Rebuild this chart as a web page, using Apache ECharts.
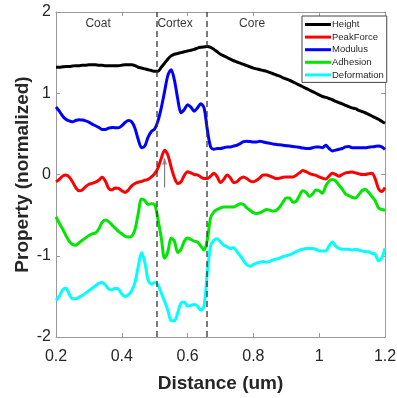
<!DOCTYPE html>
<html><head><meta charset="utf-8">
<script src="https://cdn.jsdelivr.net/npm/echarts@6/dist/echarts.min.js"></script>
<style>html,body{margin:0;padding:0;background:#fff}#c{width:397px;height:398px}</style>
</head><body><div id="c"></div>
<script>
const distance = [0.20,0.21,0.22,0.23,0.24,0.25,0.26,0.27,0.28,0.29,0.30,0.31,0.32,0.33,0.34,0.35,0.36,0.37,0.38,0.39,0.40,0.41,0.42,0.43,0.44,0.45,0.46,0.47,0.48,0.49,0.50,0.51,0.52,0.53,0.54,0.55,0.56,0.57,0.58,0.59,0.60,0.61,0.62,0.63,0.64,0.65,0.66,0.67,0.68,0.69,0.70,0.71,0.72,0.73,0.74,0.75,0.76,0.77,0.78,0.79,0.80,0.81,0.82,0.83,0.84,0.85,0.86,0.87,0.88,0.89,0.90,0.91,0.92,0.93,0.94,0.95,0.96,0.97,0.98,0.99,1.00,1.01,1.02,1.03,1.04,1.05,1.06,1.07,1.08,1.09,1.10,1.11,1.12,1.13,1.14,1.15,1.16,1.17,1.18,1.19,1.20];
const height = [1.32,1.32,1.325,1.33,1.33,1.335,1.34,1.34,1.345,1.345,1.35,1.35,1.35,1.345,1.345,1.34,1.34,1.34,1.34,1.34,1.345,1.35,1.35,1.35,1.34,1.32,1.31,1.30,1.29,1.28,1.27,1.27,1.32,1.37,1.42,1.46,1.48,1.49,1.50,1.51,1.52,1.53,1.54,1.555,1.565,1.57,1.575,1.565,1.54,1.51,1.48,1.46,1.44,1.42,1.40,1.385,1.37,1.355,1.34,1.325,1.31,1.30,1.29,1.28,1.27,1.255,1.24,1.225,1.21,1.19,1.175,1.16,1.14,1.12,1.10,1.08,1.06,1.04,1.02,1.00,0.98,0.96,0.95,0.935,0.92,0.90,0.885,0.87,0.85,0.835,0.82,0.81,0.79,0.775,0.76,0.74,0.72,0.70,0.68,0.655,0.63];
const peakForce = [-0.09,-0.06,-0.02,-0.005,-0.03,-0.09,-0.16,-0.20,-0.19,-0.15,-0.12,-0.11,-0.095,-0.07,-0.035,-0.08,-0.17,-0.19,-0.165,-0.17,-0.20,-0.22,-0.19,-0.14,-0.11,-0.095,-0.085,-0.07,-0.06,-0.03,0.01,0.08,0.20,0.30,0.24,0.09,-0.04,-0.11,-0.09,-0.01,0.035,0.02,0.0,-0.005,-0.03,-0.05,-0.05,-0.02,0.015,-0.03,-0.10,-0.06,-0.005,-0.04,-0.10,-0.09,-0.05,-0.03,-0.05,-0.08,-0.09,-0.07,-0.04,-0.005,-0.005,-0.02,-0.035,-0.05,-0.045,-0.035,-0.03,-0.03,-0.03,-0.01,0.02,0.05,0.035,0.015,0.0,-0.01,-0.03,-0.045,-0.055,-0.02,0.015,0.0,-0.02,0.0,0.02,0.025,0.03,0.02,0.01,0.0,0.0,0.01,0.015,-0.05,-0.17,-0.21,-0.16];
const modulus = [0.83,0.78,0.72,0.68,0.66,0.65,0.665,0.675,0.67,0.66,0.645,0.62,0.60,0.58,0.555,0.555,0.57,0.58,0.575,0.575,0.60,0.64,0.665,0.65,0.57,0.43,0.33,0.35,0.46,0.53,0.56,0.66,0.82,1.02,1.22,1.29,1.16,0.93,0.76,0.80,0.86,0.83,0.78,0.82,0.87,0.82,0.55,0.34,0.31,0.32,0.32,0.33,0.34,0.34,0.35,0.36,0.38,0.405,0.41,0.405,0.40,0.40,0.41,0.40,0.39,0.385,0.375,0.37,0.365,0.36,0.355,0.35,0.345,0.34,0.335,0.325,0.32,0.32,0.33,0.34,0.34,0.33,0.36,0.32,0.29,0.30,0.31,0.32,0.34,0.345,0.33,0.33,0.33,0.33,0.33,0.335,0.34,0.345,0.35,0.34,0.31];
const adhesion = [-0.52,-0.60,-0.67,-0.75,-0.82,-0.86,-0.87,-0.84,-0.81,-0.78,-0.75,-0.73,-0.72,-0.67,-0.59,-0.56,-0.58,-0.62,-0.66,-0.70,-0.73,-0.76,-0.77,-0.76,-0.68,-0.48,-0.30,-0.32,-0.37,-0.36,-0.37,-0.55,-0.78,-1.03,-0.95,-0.78,-0.82,-0.96,-0.92,-0.82,-0.78,-0.80,-0.82,-0.83,-0.88,-0.93,-0.80,-0.53,-0.46,-0.43,-0.41,-0.40,-0.40,-0.40,-0.40,-0.38,-0.36,-0.37,-0.41,-0.44,-0.47,-0.48,-0.47,-0.45,-0.43,-0.44,-0.45,-0.44,-0.40,-0.34,-0.29,-0.29,-0.34,-0.33,-0.26,-0.20,-0.22,-0.27,-0.24,-0.19,-0.20,-0.23,-0.14,-0.08,-0.06,-0.08,-0.13,-0.18,-0.24,-0.26,-0.28,-0.29,-0.25,-0.20,-0.18,-0.22,-0.27,-0.32,-0.41,-0.43,-0.44];
const deformation = [-1.55,-1.50,-1.42,-1.40,-1.47,-1.53,-1.53,-1.51,-1.49,-1.46,-1.43,-1.40,-1.37,-1.34,-1.33,-1.36,-1.41,-1.42,-1.40,-1.41,-1.47,-1.50,-1.48,-1.43,-1.33,-1.13,-0.96,-1.08,-1.30,-1.35,-1.33,-1.36,-1.46,-1.56,-1.67,-1.80,-1.80,-1.70,-1.58,-1.57,-1.62,-1.61,-1.60,-1.62,-1.67,-1.62,-1.20,-0.88,-0.81,-0.79,-0.83,-0.87,-0.89,-0.91,-0.90,-0.95,-1.00,-1.06,-1.11,-1.13,-1.11,-1.09,-1.08,-1.07,-1.08,-1.07,-1.05,-1.04,-1.03,-1.01,-1.00,-0.99,-0.97,-0.95,-0.93,-0.92,-0.91,-0.91,-0.91,-0.92,-0.94,-0.94,-0.94,-0.88,-0.83,-0.88,-0.91,-0.92,-0.92,-0.92,-0.93,-0.92,-0.93,-0.94,-0.95,-0.95,-0.97,-0.98,-1.06,-1.03,-0.91];
const seriesNames = ['Height','PeakForce','Modulus','Adhesion','Deformation'];
const seriesColors = ['#000000','#ff0000','#0000ff','#00e600','#00ffff'];
const boundaries = [0.507, 0.659];
const regionNames = ['Coat','Cortex','Core'];
const regionX = [0.328, 0.562, 0.796];
const regionY = 1.86;
const arrowX = 0.53, arrowFrom = -0.16, arrowTo = 0.19;
const xTicks = [0.2,0.4,0.6,0.8,1,1.2];
const yTicks = [-2,-1,0,1,2];

const values = [height, peakForce, modulus, adhesion, deformation];
const FONT = 'Liberation Sans, Arial, sans-serif';
const axisCol = '#9a9a9a';
const labelCol = '#262626';

const lineSeries = seriesNames.map((n,i)=>({
  name:n, type:'line', symbol:'none', smooth:0.3,
  data: distance.map((d,k)=>[d, values[i][k]]),
  lineStyle:{color:seriesColors[i], width:3},
  itemStyle:{color:seriesColors[i]},
  z:3, animation:false
}));

const dividerSeries = boundaries.map((b,i)=>({
  name:'div'+i, type:'line', symbol:'none',
  data:[[b,yTicks[0]],[b,yTicks[yTicks.length-1]]],
  lineStyle:{color:'#333', width:1.3, type:[6,4]},
  z:4, animation:false, silent:true
}));

const arrowShaft = {
  name:'arrowShaft', type:'line', symbol:'none', silent:true, animation:false, z:5,
  data:[[arrowX, arrowFrom],[arrowX, arrowTo]],
  lineStyle:{color:'#808080', width:1.2}
};
const arrowHead = {
  name:'arrowHead', type:'scatter', symbol:'triangle', symbolSize:[5,7], symbolOffset:[0,2],
  silent:true, animation:false, z:5,
  data:[[arrowX, arrowTo]],
  itemStyle:{color:'#808080'}
};

const regionSeries = {
  name:'regions', type:'scatter', symbolSize:0, silent:true, animation:false,
  data: regionNames.map((r,i)=>({name:r, value:[regionX[i], regionY]})),
  label:{show:true, position:'inside', formatter:'{b}', color:'#000', fontFamily:FONT, fontSize:12}
};

const chart = echarts.init(document.getElementById('c'), null, {renderer:'canvas'});
const fmt = v => String(+(+v).toFixed(1));
chart.setOption({
  backgroundColor:'#fff',
  animation:false,
  grid:{left:56, right:12, top:12, bottom:61, outerBoundsMode:'none', containLabel:false},
  legend:{
    data:seriesNames, orient:'vertical', left:302, top:16,
    padding:[3,3,2,3], itemGap:1.6, itemWidth:26, itemHeight:3, icon:'rect',
    borderColor:'#444', borderWidth:1, backgroundColor:'#fff',
    textStyle:{fontFamily:FONT, fontSize:9.5, color:labelCol, lineHeight:11, padding:[0,0,0,-4]}
  },
  xAxis:[{
    type:'value', min:0.2, max:1.2, interval:0.2,
    name:'Distance (um)', nameLocation:'middle', nameGap:37, nameMoveOverlap:false,
    nameTextStyle:{fontFamily:FONT, fontWeight:'bold', fontSize:19, color:labelCol},
    axisLine:{show:true, onZero:false, lineStyle:{color:axisCol, width:1}},
    axisTick:{show:true, inside:true, length:4, lineStyle:{color:axisCol}},
    axisLabel:{formatter:fmt, fontFamily:FONT, fontSize:16, color:labelCol, margin:12},
    splitLine:{show:false}
  },{
    type:'value', position:'top', min:0.2, max:1.2, interval:0.2,
    axisLine:{show:true, onZero:false, lineStyle:{color:axisCol, width:1}},
    axisTick:{show:true, inside:true, length:4, lineStyle:{color:axisCol}},
    axisLabel:{show:false}, splitLine:{show:false}
  }],
  yAxis:[{
    type:'value', min:-2, max:2, interval:1,
    name:'Property (normalized)', nameLocation:'middle', nameGap:24, nameMoveOverlap:false,
    nameTextStyle:{fontFamily:FONT, fontWeight:'bold', fontSize:19, color:labelCol},
    axisLine:{show:true, onZero:false, lineStyle:{color:axisCol, width:1}},
    axisTick:{show:true, inside:true, length:4, lineStyle:{color:axisCol}},
    axisLabel:{formatter:fmt, fontFamily:FONT, fontSize:16, color:labelCol, margin:5},
    splitLine:{show:false}
  },{
    type:'value', position:'right', min:-2, max:2, interval:1,
    axisLine:{show:true, onZero:false, lineStyle:{color:axisCol, width:1}},
    axisTick:{show:true, inside:true, length:4, lineStyle:{color:axisCol}},
    axisLabel:{show:false}, splitLine:{show:false}
  }],
  series:[...lineSeries, ...dividerSeries, arrowShaft, arrowHead, regionSeries]
});
</script></body></html>
